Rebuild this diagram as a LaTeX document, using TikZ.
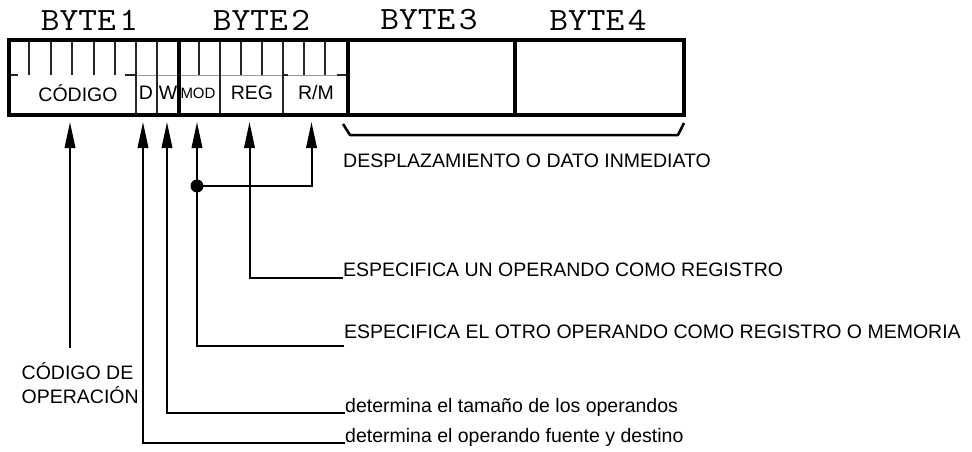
\documentclass[tikz,border=0pt]{standalone}
\usepackage{fontspec}
\setmainfont{Liberation Sans}
\usetikzlibrary{arrows.meta}
\tikzset{
  outer/.style={line width=3.5pt},
  thin/.style={line width=1.5pt, black!85},
  midline/.style={line width=0.8pt, black!40},
  arr/.style={line width=2pt, -{Triangle[length=26pt,width=10.5pt]}},
  conn/.style={line width=2pt},
  lbl/.style={inner sep=0pt, font=\fontsize{19.5}{22}\selectfont},
  cell/.style={inner sep=0pt, font=\fontsize{19.5}{22}\selectfont},
  bytelbl/.style={inner sep=0pt, font=\ttfamily\fontsize{32.5}{34}\selectfont},
}
\newcommand\bytetxt[1]{\scalebox{1.12}[1]{BYTE\hspace{3pt}#1}}
\begin{document}
\begin{tikzpicture}[x=1pt,y=-1pt]
\useasboundingbox (0,0) rectangle (972,452);
% byte titles
\node[bytelbl] (b1) at (89.5,20) {\bytetxt{1}};
\node[bytelbl] (b2) at (261.5,20) {\bytetxt{2}};
\node[bytelbl] (b3) at (429,20) {\bytetxt{3}};
\node[bytelbl] (b4) at (598,20) {\bytetxt{4}};
% middle line and stubs
\draw[midline] (136,75) -- (348,75);
\draw[thin] (9,75) -- (18,75);
\draw[thin] (125,75) -- (136,75);
\draw[thin] (283,75) -- (288,75);
\draw[thin] (337,75) -- (348,75);
% bit ticks (upper half)
\foreach \x in {29,51,72,94,115,199,241,262,304,325}
  \draw[thin] (\x,40) -- (\x,75);
% full-height field separators
\foreach \x in {136,157,220,283}
  \draw[thin] (\x,40) -- (\x,115);
% outer frame and byte separators
\draw[outer] (9,40) rectangle (684,115);
\foreach \x in {179,348,515}
  \draw[outer] (\x,40) -- (\x,115);
% field labels
\node[cell] (fC) at (78,93) {CÓDIGO};
\node[cell] (fD) at (146,93) {D};
\node[cell] (fW) at (168,93) {W};
\node[cell, font=\fontsize{15}{17}\selectfont] (fMOD) at (198,93) {MOD};
\node[cell] (fREG) at (252,93) {REG};
\node[cell] (fRM) at (316,93) {R/M};
% brace for bytes 3-4
\draw[line width=2.5pt, line join=round] (343,124) -- (350,135) -- (678,135) -- (684,123);
\node[lbl, anchor=base west] (tDESP) at (343,167) {DESPLAZAMIENTO O DATO INMEDIATO};
% arrow tips
\coordinate (aC) at (70,122);
\coordinate (aD) at (143,122);
\coordinate (aW) at (167,122);
\coordinate (aMOD) at (197,122);
\coordinate (aREG) at (249.5,122);
\coordinate (aRM) at (311.5,122);
% labels
\node[lbl, anchor=base west] (tREG) at (343,276) {ESPECIFICA UN OPERANDO COMO REGISTRO};
\node[lbl, anchor=base west] (tMOD) at (344,338.5) {ESPECIFICA EL OTRO OPERANDO COMO REGISTRO O MEMORIA};
\node[lbl, anchor=base west] (tW) at (345,412) {determina el tamaño de los operandos};
\node[lbl, anchor=base west] (tD) at (345,442) {determina el operando fuente y destino};
\node[lbl, anchor=north west, align=left, font=\fontsize{19.5}{24.5}\selectfont] (tC) at (21.5,362) {CÓDIGO DE\\OPERACIÓN};
% connector ends
\coordinate (eREG) at (343,278);
\coordinate (eMOD) at (344,346);
\coordinate (eW) at (345,413);
\coordinate (eD) at (345,443);
\coordinate (eC) at (70,348);
\coordinate (dot) at (197,186);
% connectors
\draw[arr] (eC) -- (aC);
\draw[arr] (eD) -| (aD);
\draw[arr] (eW) -| (aW);
\draw[arr] (eMOD) -| (aMOD);
\draw[arr] (eREG) -| (aREG);
\draw[arr] (dot) -| (aRM);
\fill (dot) circle (6.5);
\end{tikzpicture}
\end{document}
